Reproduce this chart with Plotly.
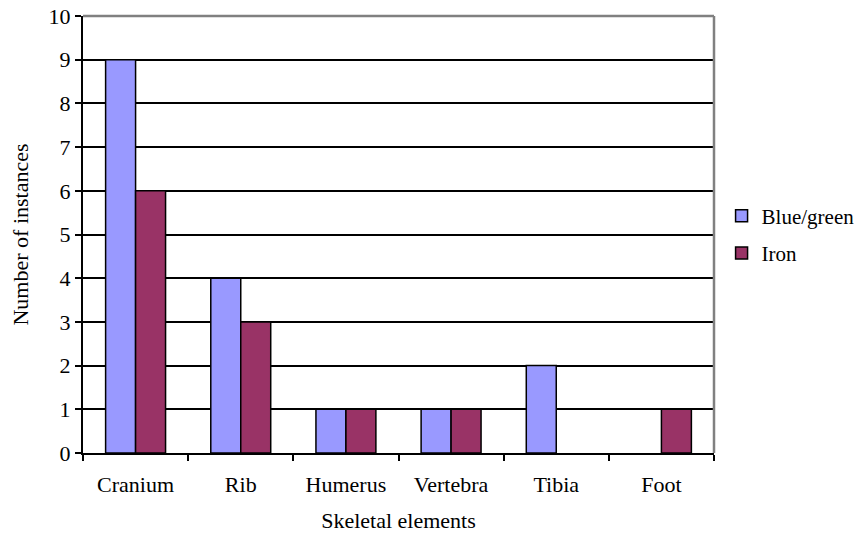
import plotly.graph_objects as go

categories = ["Cranium", "Rib", "Humerus", "Vertebra", "Tibia", "Foot"]
blue_green = [9, 4, 1, 1, 2, 0]
iron = [6, 3, 1, 1, 0, 1]
y_ticks = list(range(0, 11))

FONT = "'Liberation Serif', 'Times New Roman', Times, serif"


def outline_widths(values):
    return [0 if v == 0 else 1.5 for v in values]


fig = go.Figure()
fig.add_trace(go.Bar(x=categories, y=blue_green, name="Blue/green", legendgroup="a",
                     marker=dict(color="#9999FF",
                                 line=dict(color="black", width=outline_widths(blue_green)))))
fig.add_trace(go.Bar(x=categories, y=iron, name="Iron", legendgroup="b",
                     marker=dict(color="#993366",
                                 line=dict(color="black", width=outline_widths(iron)))))

fig.update_layout(
    width=856, height=533,
    margin=dict(l=83, r=142, t=16, b=80, autoexpand=False),
    paper_bgcolor="white", plot_bgcolor="white",
    font=dict(family=FONT, size=22, color="black"),
    barmode="group", bargap=0.43, bargroupgap=0,
    showlegend=True,
    legend=dict(x=1.012, y=0.5, xanchor="left", yanchor="middle",
                font=dict(family=FONT, size=21, color="black"),
                bgcolor="rgba(0,0,0,0)", itemwidth=30,
                traceorder="grouped", tracegroupgap=7),
    xaxis=dict(
        title=dict(text="Skeletal elements", font=dict(family=FONT, size=22), standoff=16),
        automargin=False,
        showline=True, linecolor="black", linewidth=2,
        ticks="outside", tickson="boundaries", ticklen=6, tickwidth=2, tickcolor="black",
        showgrid=False, tickfont=dict(family=FONT, size=22), ticklabelstandoff=11,
    ),
    yaxis=dict(
        title=dict(text="Number of instances", font=dict(family=FONT, size=22), standoff=14),
        automargin=False,
        range=[0, 10], tickvals=y_ticks, ticktext=[str(v) for v in y_ticks],
        showline=True, linecolor="black", linewidth=2,
        ticks="outside", ticklen=6, tickwidth=2, tickcolor="black",
        showgrid=True, gridcolor="black", gridwidth=1.5,
        zeroline=False, tickfont=dict(family=FONT, size=22),
        ticklabeloverflow="allow",
    ),
)

# grey top and right border of plot area
fig.add_shape(type="line", xref="paper", yref="paper", x0=0, x1=1, y0=1, y1=1,
              line=dict(color="#808080", width=2.5), layer="above")
fig.add_shape(type="line", xref="paper", yref="paper", x0=1, x1=1, y0=0, y1=1,
              line=dict(color="#808080", width=2.5), layer="above")

fig.write_html("out.html",
               config={"displayModeBar": False},
               post_script="document.body.style.margin='0';document.body.style.overflow='hidden';")
